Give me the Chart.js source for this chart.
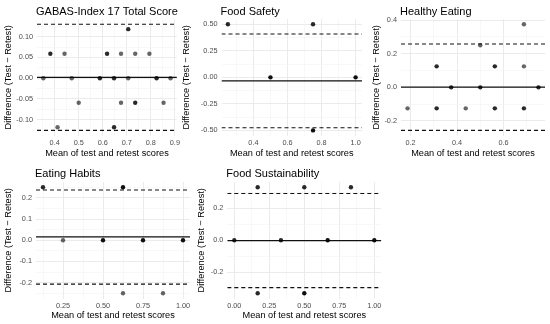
<!DOCTYPE html>
<html>
<head>
<meta charset="utf-8">
<script src="https://cdn.jsdelivr.net/npm/chart.js@4"></script>
<style>
  body { margin: 0; background: #fff; }
  #wrap { position: relative; width: 550px; height: 324px; overflow: hidden; }
  #wrap canvas { position: absolute; }
</style>
</head>
<body>
<div id="wrap"></div>
<script>
// GABAS-Index 17 Total Score
var totalMeans  = [0.353, 0.382, 0.441, 0.471, 0.500, 0.412, 0.588, 0.618, 0.647, 0.647, 0.676, 0.676, 0.706, 0.706, 0.735, 0.735, 0.794, 0.824, 0.853, 0.882];
var totalDiffs  = [0, 0.059, 0.059, 0, -0.059, -0.118, 0, 0.059, 0, -0.118, 0.059, -0.059, 0.118, 0, 0.059, -0.059, 0.059, 0, -0.059, 0];
var totalCounts = [1, 2, 1, 1, 1, 1, 2, 2, 2, 2, 1, 1, 2, 1, 1, 2, 1, 2, 1, 1];
var totalLimits = [0.002, 0.1297, -0.1256];   // bias, upper LoA, lower LoA
var totalXTicks = [0.4, 0.5, 0.6, 0.7, 0.8, 0.9];
var totalYTicks = [-0.10, -0.05, 0, 0.05, 0.10];

// Food Safety
var safetyMeans  = [0.25, 0.75, 0.50, 1.00, 0.75];
var safetyDiffs  = [0.5, 0.5, 0, 0, -0.5];
var safetyCounts = [2, 2, 3, 3, 3];
var safetyLimits = [-0.033, 0.4085, -0.4755];
var safetyXTicks = [0.4, 0.6, 0.8, 1.0];
var safetyYTicks = [-0.50, -0.25, 0, 0.25, 0.50];

// Healthy Eating
var healthyMeans  = [0.1875, 0.3125, 0.3125, 0.375, 0.4375, 0.5, 0.5, 0.5625, 0.5625, 0.6875, 0.6875, 0.6875, 0.75];
var healthyDiffs  = [-0.125, 0.125, -0.125, 0, -0.125, 0.25, 0, 0.125, -0.125, 0.375, 0.125, -0.125, 0];
var healthyCounts = [1, 2, 2, 2, 1, 1, 2, 2, 2, 1, 1, 2, 2];
var healthyLimits = [0.001, 0.258, -0.256];
var healthyXTicks = [0.2, 0.4, 0.6];
var healthyYTicks = [-0.2, 0, 0.2, 0.4];

// Eating Habits
var habitsMeans  = [0.125, 0.25, 0.5, 0.625, 0.625, 0.75, 0.875, 1.0];
var habitsDiffs  = [0.25, 0, 0, 0.25, -0.25, 0, -0.25, 0];
var habitsCounts = [2, 1, 3, 3, 1, 3, 1, 3];
var habitsLimits = [0.0156, 0.237, -0.207];
var habitsXTicks = [0.25, 0.50, 0.75, 1.00];
var habitsYTicks = [-0.2, -0.1, 0, 0.1, 0.2];

// Food Sustainability
var sustMeans  = [0.167, 0.5, 0.833, 0, 0.333, 0.667, 1.0, 0.167, 0.5];
var sustDiffs  = [0.333, 0.333, 0.333, 0, 0, 0, 0, -0.333, -0.333];
var sustCounts = [2, 2, 2, 2, 2, 3, 3, 2, 3];
var sustLimits = [-0.002, 0.294, -0.298];
var sustXTicks = [0, 0.25, 0.50, 0.75, 1.00];
var sustYTicks = [-0.2, 0, 0.2];

Chart.defaults.font.family = '"Liberation Sans", Arial, sans-serif';
Chart.defaults.animation = false;

var panelTitle = {
  id: 'panelTitle',
  afterDraw: function (chart, args, opts) {
    var ctx = chart.ctx;
    ctx.save();
    ctx.font = '11px "Liberation Sans", Arial, sans-serif';
    ctx.fillStyle = '#000';
    ctx.textBaseline = 'alphabetic';
    ctx.fillText(opts.text, chart.chartArea.left - 1, opts.baseline);
    ctx.restore();
  }
};

// ggplot-like range: data + reference lines, expanded 5% each side
function expand(vals) {
  var lo = Math.min.apply(null, vals), hi = Math.max.apply(null, vals);
  var pad = (hi - lo) * 0.05;
  return [lo - pad, hi + pad];
}

// major breaks plus minor breaks half-way between them
function withMinor(major, lo, hi) {
  var step = major[1] - major[0];
  var out = major.map(function (v) { return { value: v, minor: false }; });
  for (var i = -1; i < major.length; i++) {
    var m = major[0] + (i + 0.5) * step;
    if (m >= lo && m <= hi) out.push({ value: m, minor: true });
  }
  return out.sort(function (a, b) { return a.value - b.value; });
}

function axis(ticks, range, digits, title, fit) {
  return {
    type: 'linear',
    min: range[0],
    max: range[1],
    afterBuildTicks: function (s) { s.ticks = withMinor(ticks, range[0], range[1]); },
    afterFit: fit,
    border: { display: false },
    grid: {
      drawTicks: false,
      color: function (c) { return c.tick && c.tick.minor ? '#F3F3F3' : '#E9E9E9'; },
      lineWidth: function (c) { return c.tick && c.tick.minor ? 0.6 : 0.9; }
    },
    ticks: {
      autoSkip: false,
      maxRotation: 0,
      color: '#4D4D4D',
      font: { size: 7.3 },
      callback: function (v, i, all) { return all[i].minor ? '' : Number(v).toFixed(digits); }
    },
    title: { display: true, text: title, color: '#000', font: { size: 9.2 } }
  };
}

function panel(id, title, cell, area, yTitleX, means, diffs, counts, limits, xTicks, xDigits, yTicks, yDigits) {
  var cv = document.createElement('canvas');
  cv.id = id;
  cv.width = cell.w; cv.height = cell.h;
  cv.style.left = cell.left + 'px'; cv.style.top = cell.top + 'px';
  document.getElementById('wrap').appendChild(cv);

  var xr = expand(means);
  var yr = expand(diffs.concat(limits));
  var padLeft = yTitleX - cell.left - 5.5;

  var pts = means.map(function (m, i) { return { x: m, y: diffs[i] }; });
  var cols = counts.map(function (n) { return 'rgba(0,0,0,' + (1 - Math.pow(0.4, n)).toFixed(3) + ')'; });

  function hline(v, dash, color, w) {
    return {
      data: [{ x: xr[0], y: v }, { x: xr[1], y: v }],
      showLine: true, pointRadius: 0, borderColor: color, borderWidth: w,
      borderDash: dash, order: 1
    };
  }

  var xs = axis(xTicks, xr, xDigits, 'Mean of test and retest scores', function (s) { s.height = cell.h - area.b; });
  xs.ticks.padding = 3;
  xs.title.padding = { top: 0, bottom: 3.5 };
  var ys = axis(yTicks, yr, yDigits, 'Difference (Test \u2212 Retest)', function (s) { s.width = area.l - cell.left - padLeft; });
  ys.ticks.padding = 4;
  ys.title.padding = { top: 0, bottom: 0 };

  new Chart(cv, {
    type: 'scatter',
    data: {
      datasets: [
        { data: pts, pointRadius: 2.2, pointBorderWidth: 0, pointBackgroundColor: cols, order: 0 },
        hline(limits[0], [], '#111', 1.3),
        hline(limits[1], [4, 3], '#111', 1.1),
        hline(limits[2], [4, 3], '#111', 1.1)
      ]
    },
    options: {
      responsive: false,
      devicePixelRatio: 1,
      layout: { padding: { left: padLeft, right: cell.left + cell.w - area.r, top: area.t, bottom: 0 } },
      scales: { x: xs, y: ys },
      plugins: {
        legend: { display: false },
        tooltip: { enabled: false },
        panelTitle: { text: title, baseline: 14.5 }
      }
    },
    plugins: [panelTitle]
  });
}

panel('total', 'GABAS-Index 17 Total Score', { left: 0, top: 0, w: 183, h: 162 }, { l: 37, r: 180, t: 19, b: 135.7 }, 8,
  totalMeans, totalDiffs, totalCounts, totalLimits, totalXTicks, 1, totalYTicks, 2);
panel('safety', 'Food Safety', { left: 178, top: 0, w: 188, h: 162 }, { l: 221.5, r: 364, t: 19, b: 135.7 }, 186,
  safetyMeans, safetyDiffs, safetyCounts, safetyLimits, safetyXTicks, 1, safetyYTicks, 2);
panel('healthy', 'Healthy Eating', { left: 366, top: 0, w: 184, h: 162 }, { l: 401, r: 545, t: 19, b: 135.7 }, 376,
  healthyMeans, healthyDiffs, healthyCounts, healthyLimits, healthyXTicks, 1, healthyYTicks, 1);
panel('habits', 'Eating Habits', { left: 0, top: 162, w: 194, h: 162 }, { l: 36, r: 190.3, t: 20, b: 136.5 }, 8,
  habitsMeans, habitsDiffs, habitsCounts, habitsLimits, habitsXTicks, 2, habitsYTicks, 1);
panel('sust', 'Food Sustainability', { left: 194, top: 162, w: 206, h: 162 }, { l: 227.3, r: 381.3, t: 20, b: 136.5 }, 201,
  sustMeans, sustDiffs, sustCounts, sustLimits, sustXTicks, 2, sustYTicks, 1);
</script>
</body>
</html>
